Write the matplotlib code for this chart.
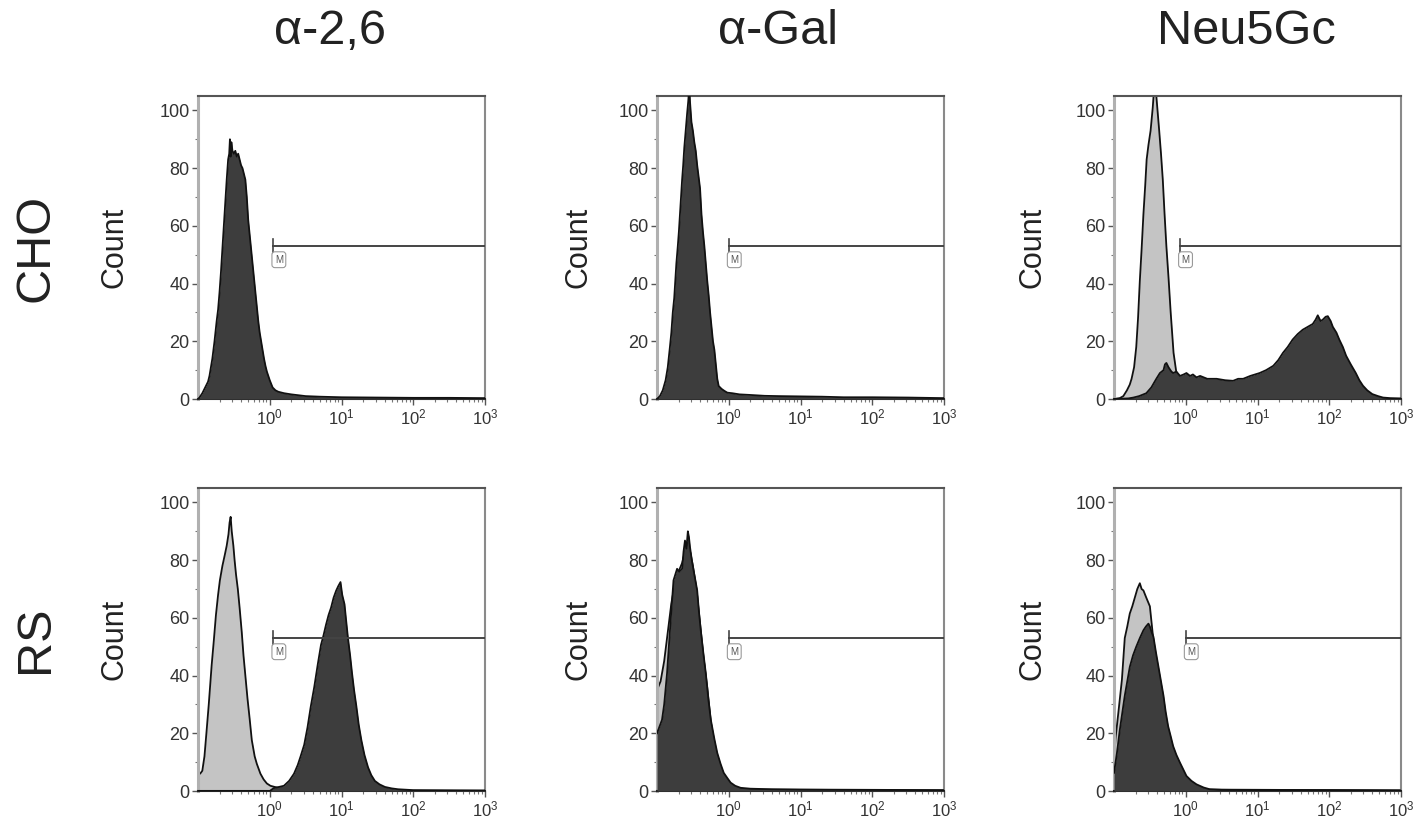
import numpy as np
import matplotlib
matplotlib.use('Agg')
import matplotlib.pyplot as plt
from matplotlib.ticker import FixedLocator, LogLocator, NullFormatter

plt.rcParams['font.family'] = ['Liberation Sans', 'DejaVu Sans']
plt.rcParams['mathtext.default'] = 'regular'

antigens = ['α-2,6', 'α-Gal', 'Neu5Gc']
cell_lines = ['CHO', 'RS']
xtick_vals = [1, 10, 100, 1000]
xtick_labels = ['$10^{0}$', '$10^{1}$', '$10^{2}$', '$10^{3}$']
ytick_vals = [0, 20, 40, 60, 80, 100]

# histograms: log10(intensity) and cell count
cho_a26_sample_lx = [-1.0, -0.98, -0.94, -0.9, -0.86, -0.84, -0.8, -0.77, -0.74, -0.72, -0.7,
                     -0.68, -0.66, -0.64, -0.62, -0.6, -0.58, -0.565, -0.555, -0.545, -0.535,
                     -0.52, -0.5, -0.48, -0.46, -0.44, -0.42, -0.4, -0.38, -0.36, -0.34,
                     -0.32, -0.3, -0.28, -0.26, -0.24, -0.22, -0.2, -0.18, -0.16, -0.14,
                     -0.12, -0.1, -0.08, -0.06, -0.04, -0.02, 0.0, 0.04, 0.08, 0.12,
                     0.2, 0.3, 0.4, 0.5, 0.7, 1.0, 1.5, 2.0, 2.5, 3.0]
cho_a26_sample = [0, 0.5, 2, 4, 6, 8, 14, 20, 27, 31, 37,
                  44, 52, 60, 68, 76, 83, 85, 90, 84, 89,
                  86, 85, 86, 84, 85, 83, 81, 80, 78, 76,
                  70, 62, 57, 52, 47, 42, 37, 32, 27, 23,
                  20, 17, 14, 11.5, 9.5, 8, 6.5, 4, 3, 2.5,
                  2, 1.6, 1.3, 1.0, 0.8, 0.6, 0.5, 0.4, 0.4, 0.3]

cho_gal_sample_lx = [-1.0, -0.96, -0.92, -0.88, -0.85, -0.82, -0.8, -0.78, -0.76, -0.745,
                     -0.73, -0.71, -0.695, -0.68, -0.665, -0.65, -0.635, -0.62, -0.6, -0.58,
                     -0.565, -0.55, -0.54, -0.52, -0.5, -0.48, -0.46, -0.44, -0.42, -0.4,
                     -0.38, -0.36, -0.34, -0.32, -0.3, -0.28, -0.26, -0.24, -0.22, -0.2,
                     -0.18, -0.16, -0.14, -0.1, -0.06, -0.02, 0.05, 0.15, 0.3, 0.5,
                     0.7, 1.0, 1.3, 1.6, 2.0, 2.5, 3.0]
cho_gal_sample = [0, 1, 3, 6.5, 11, 18, 23, 30, 35, 41,
                  47, 53, 58, 64, 70, 76, 81, 87, 93, 99,
                  103, 108, 103, 96, 93, 89, 86, 81, 77, 73,
                  64, 58, 53, 47, 41, 36, 30, 25, 20, 17,
                  12, 7, 4.5, 3.5, 2.8, 2.2, 2, 1.6, 1.4, 1.1,
                  1.0, 0.9, 0.8, 0.6, 0.6, 0.5, 0.3]

cho_neu_control_lx = [-1.0, -0.92, -0.87, -0.82, -0.78, -0.755, -0.72, -0.69, -0.665, -0.64,
                      -0.615, -0.59, -0.565, -0.545, -0.52, -0.49, -0.46, -0.44, -0.42, -0.40,
                      -0.37, -0.345, -0.32, -0.295, -0.27, -0.24, -0.21, -0.19, -0.17, -0.13,
                      -0.09, -0.05, 0.0, 0.1, 0.5, 3.0]
cho_neu_control = [0, 0.3, 1, 3, 5, 7, 11, 18, 28, 41,
                   52, 64, 74, 83, 88, 93, 101, 108, 108, 102,
                   93, 85, 76, 64, 53, 42, 30, 23, 16, 9,
                   5, 2.5, 1, 0.3, 0.2, 0]
cho_neu_sample_lx = [-1.0, -0.8, -0.73, -0.65, -0.55, -0.48, -0.41, -0.36, -0.31, -0.29,
                     -0.27, -0.24, -0.2, -0.175, -0.13, -0.08, -0.03, 0.01, 0.06, 0.1,
                     0.15, 0.2, 0.3, 0.43, 0.55, 0.66, 0.73, 0.8, 0.9, 1.03,
                     1.12, 1.22, 1.29, 1.355, 1.42, 1.49, 1.56, 1.63, 1.7, 1.77,
                     1.81, 1.84, 1.88, 1.91, 1.95, 1.98, 2.02, 2.05, 2.1, 2.14,
                     2.19, 2.235, 2.3, 2.37, 2.42, 2.47, 2.53, 2.6, 2.68, 2.75,
                     2.85, 3.0]
cho_neu_sample = [0, 0.2, 0.5, 1, 2, 4, 7, 9, 10, 12,
                  12.5, 11, 9.5, 9, 9.5, 8, 8.5, 9, 8, 8.5,
                  7.5, 8, 7, 7, 6.5, 6.3, 7, 7, 8, 9,
                  10, 11.5, 13.5, 16, 18, 20.6, 22.5, 24, 25, 26,
                  27.5, 29, 27, 27.5, 28.5, 28.7, 27, 25, 23, 20.6,
                  18, 15, 12, 9, 6.5, 4.6, 3, 1.7, 1, 0.5,
                  0.3, 0.2]

rs_a26_control_lx = [-1.0, -0.97, -0.94, -0.91, -0.883, -0.85, -0.81, -0.78, -0.75, -0.72,
                     -0.695, -0.66, -0.625, -0.6, -0.575, -0.56, -0.545, -0.53, -0.507, -0.49,
                     -0.47, -0.445, -0.42, -0.39, -0.366, -0.34, -0.31, -0.28, -0.25, -0.21,
                     -0.18, -0.13, -0.085, -0.04, 0.01, 0.1, 0.2, 0.4, 3.0]
rs_a26_control = [6, 6, 7, 12, 20, 30, 43.5, 52, 61, 68,
                  73, 78, 82, 85, 89, 93, 95, 90, 85, 80,
                  75, 70, 63.5, 55, 47, 40, 32, 25, 17.6, 12,
                  9.4, 6, 4, 2.6, 1.8, 1.2, 0.5, 0.2, 0]
rs_a26_sample_lx = [-1.0, 0.0, 0.056, 0.197, 0.27, 0.338, 0.39, 0.43, 0.48, 0.526,
                    0.57, 0.62, 0.67, 0.714, 0.75, 0.784, 0.82, 0.854, 0.89, 0.925,
                    0.955, 0.986, 1.01, 1.042, 1.065, 1.09, 1.12, 1.146, 1.175, 1.207,
                    1.24, 1.277, 1.32, 1.37, 1.415, 1.465, 1.53, 1.606, 1.7, 1.79,
                    2.0, 3.0]
rs_a26_sample = [0, 0, 1, 1.8, 3.5, 6, 9, 12, 16, 22,
                 29, 36, 44, 50.6, 54, 57.6, 61, 63.5, 67, 69.4,
                 71, 72.4, 68, 64.7, 59, 53, 47, 41, 35, 29.4,
                 23, 17.6, 12.5, 8.2, 5.5, 3.5, 2.3, 1.4, 0.9, 0.6,
                 0.3, 0.2]

rs_gal_control_lx = [-1.0, -0.95, -0.9, -0.85, -0.8, -0.75, -0.7, -0.65, -0.6, -0.57,
                     -0.53, -0.5, -0.45, -0.4, -0.35, -0.3, -0.25, -0.2, -0.15, -0.1,
                     -0.05, 0.0, 0.1, 0.3, 3.0]
rs_gal_control = [35, 38, 45, 55, 65, 72, 76, 79, 84, 86,
                  82, 78, 70, 58, 46, 36, 24, 16, 10, 6,
                  3.5, 2, 1, 0.5, 0.2]
rs_gal_sample_lx = [-1.0, -0.97, -0.93, -0.9, -0.86, -0.835, -0.81, -0.79, -0.77, -0.745,
                    -0.72, -0.69, -0.65, -0.63, -0.61, -0.59, -0.57, -0.555, -0.54, -0.515,
                    -0.49, -0.465, -0.44, -0.415, -0.39, -0.355, -0.32, -0.285, -0.25, -0.2,
                    -0.16, -0.115, -0.07, -0.02, 0.026, 0.09, 0.166, 0.3, 0.6, 1.0,
                    2.0, 3.0]
rs_gal_sample = [20, 22, 24.7, 30, 40.8, 50, 59, 66, 73, 75,
                 77, 76, 77, 83, 86.8, 84, 90, 88, 84.5, 80,
                 76.4, 73, 69.5, 62, 55.7, 48, 40.8, 32, 24.7, 18,
                 13.2, 9.5, 6.3, 4.5, 2.9, 1.8, 1.1, 0.8, 0.6, 0.5,
                 0.4, 0.3]

rs_neu_control_lx = [-1.0, -0.98, -0.94, -0.89, -0.85, -0.815, -0.78, -0.745, -0.71, -0.675,
                     -0.64, -0.615, -0.59, -0.55, -0.5, -0.45, -0.4, -0.35, -0.3, -0.25,
                     -0.2, -0.1, 0.0, 0.2, 3.0]
rs_neu_control = [9.8, 18, 27, 38.5, 53, 57, 61.5, 64, 67, 70,
                  72, 70, 69.5, 67, 64, 52, 42, 33, 24, 15,
                  9, 3.5, 1.5, 0.5, 0.2]
rs_neu_sample_lx = [-1.0, -0.96, -0.92, -0.885, -0.85, -0.815, -0.78, -0.735, -0.69, -0.64,
                    -0.59, -0.555, -0.52, -0.5, -0.475, -0.45, -0.415, -0.38, -0.345, -0.31,
                    -0.28, -0.245, -0.21, -0.175, -0.13, -0.08, -0.035, 0.01, 0.08, 0.15,
                    0.25, 0.335, 0.5, 1.0, 2.0, 3.0]
rs_neu_sample = [6.3, 13, 21, 27, 33, 38, 43, 47, 50, 53,
                 55.7, 57, 58, 57, 55, 53.4, 48, 43, 38, 33,
                 27.5, 22.4, 19, 15.5, 12.5, 9.8, 7.5, 5.2, 3.5, 2.3,
                 1.2, 0.6, 0.4, 0.3, 0.3, 0.2]

# marker gate start (log10) per panel, gate height
marker_start = [[0.05, 0.0, -0.08], [0.05, 0.0, 0.0]]
marker_y = 53

# (control, sample) per panel, row by row
panels = [
    [(None, (cho_a26_sample_lx, cho_a26_sample)),
     (None, (cho_gal_sample_lx, cho_gal_sample)),
     ((cho_neu_control_lx, cho_neu_control), (cho_neu_sample_lx, cho_neu_sample))],
    [((rs_a26_control_lx, rs_a26_control), (rs_a26_sample_lx, rs_a26_sample)),
     ((rs_gal_control_lx, rs_gal_control), (rs_gal_sample_lx, rs_gal_sample)),
     ((rs_neu_control_lx, rs_neu_control), (rs_neu_sample_lx, rs_neu_sample))],
]

W, H = 1415, 827
fig = plt.figure(figsize=(W / 100, H / 100), dpi=100)

col_left = [198, 657, 1114]
row_top = [96, 488]
ax_w, ax_h = 287, 303
title_x = [330, 778, 1246]
count_x = [115, 578, 1032]

light = '#c4c4c4'
dark = '#3d3d3d'


def draw_hist(ax, lx, counts, color, z):
    x = 10 ** np.array(lx)
    ax.fill_between(x, counts, 0, color=color, lw=0, zorder=z)
    ax.plot(x, counts, color='#111111', lw=1.3, zorder=z + 0.5)


for r in range(2):
    for c in range(3):
        ax = fig.add_axes([col_left[c] / W, 1 - (row_top[r] + ax_h) / H, ax_w / W, ax_h / H])
        ax.set_xscale('log')
        ax.set_xlim(0.1, 1000)
        ax.set_ylim(0, 105)

        control, sample = panels[r][c]
        if control is not None:
            draw_hist(ax, control[0], control[1], light, 2)
        draw_hist(ax, sample[0], sample[1], dark, 3)

        # M1 gate
        xm = 10 ** marker_start[r][c]
        ax.plot([xm, 1000], [marker_y, marker_y], color='#444444', lw=1.4, zorder=5)
        ax.plot([xm, xm], [marker_y - 2.5, marker_y + 2.5], color='#444444', lw=1.2, zorder=5)
        ax.text(xm * 1.05, marker_y - 3, 'M', fontsize=7, color='#555555', va='top', ha='left',
                zorder=6, bbox=dict(boxstyle='round,pad=0.3', fc='white', ec='#999999', lw=0.8))

        ax.xaxis.set_major_locator(FixedLocator(xtick_vals))
        ax.set_xticklabels(xtick_labels)
        ax.xaxis.set_minor_locator(LogLocator(base=10, subs=np.arange(2, 10)))
        ax.xaxis.set_minor_formatter(NullFormatter())
        ax.set_yticks(ytick_vals)
        ax.set_yticks([10, 30, 50, 70, 90], minor=True)

        ax.tick_params(which='major', direction='out', length=4, width=1, color='#555555',
                       labelsize=13, labelcolor='#333333', pad=2)
        ax.tick_params(axis='x', which='major', labelsize=12)
        ax.tick_params(which='minor', direction='out', length=2, width=0.8, color='#777777')

        ax.spines['left'].set_color('#b0b0b0')
        ax.spines['left'].set_linewidth(2.2)
        ax.spines['top'].set_color('#555555')
        ax.spines['top'].set_linewidth(1.5)
        ax.spines['right'].set_color('#8a8a8a')
        ax.spines['right'].set_linewidth(1.5)
        ax.spines['bottom'].set_color('#222222')
        ax.spines['bottom'].set_linewidth(1.5)

        fig.text(count_x[c] / W, 1 - (row_top[r] + ax_h / 2) / H, 'Count', rotation=90,
                 ha='center', va='center', fontsize=22, color='#222222')

for c, name in enumerate(antigens):
    fig.text(title_x[c] / W, 1 - 31 / H, name, ha='center', va='center', fontsize=35, color='#222222')

for r, name in enumerate(cell_lines):
    fig.text(36 / W, 1 - (row_top[r] + ax_h / 2) / H, name, rotation=90, ha='center', va='center',
             fontsize=35, color='#222222')

fig.savefig('out.png', dpi=100)
